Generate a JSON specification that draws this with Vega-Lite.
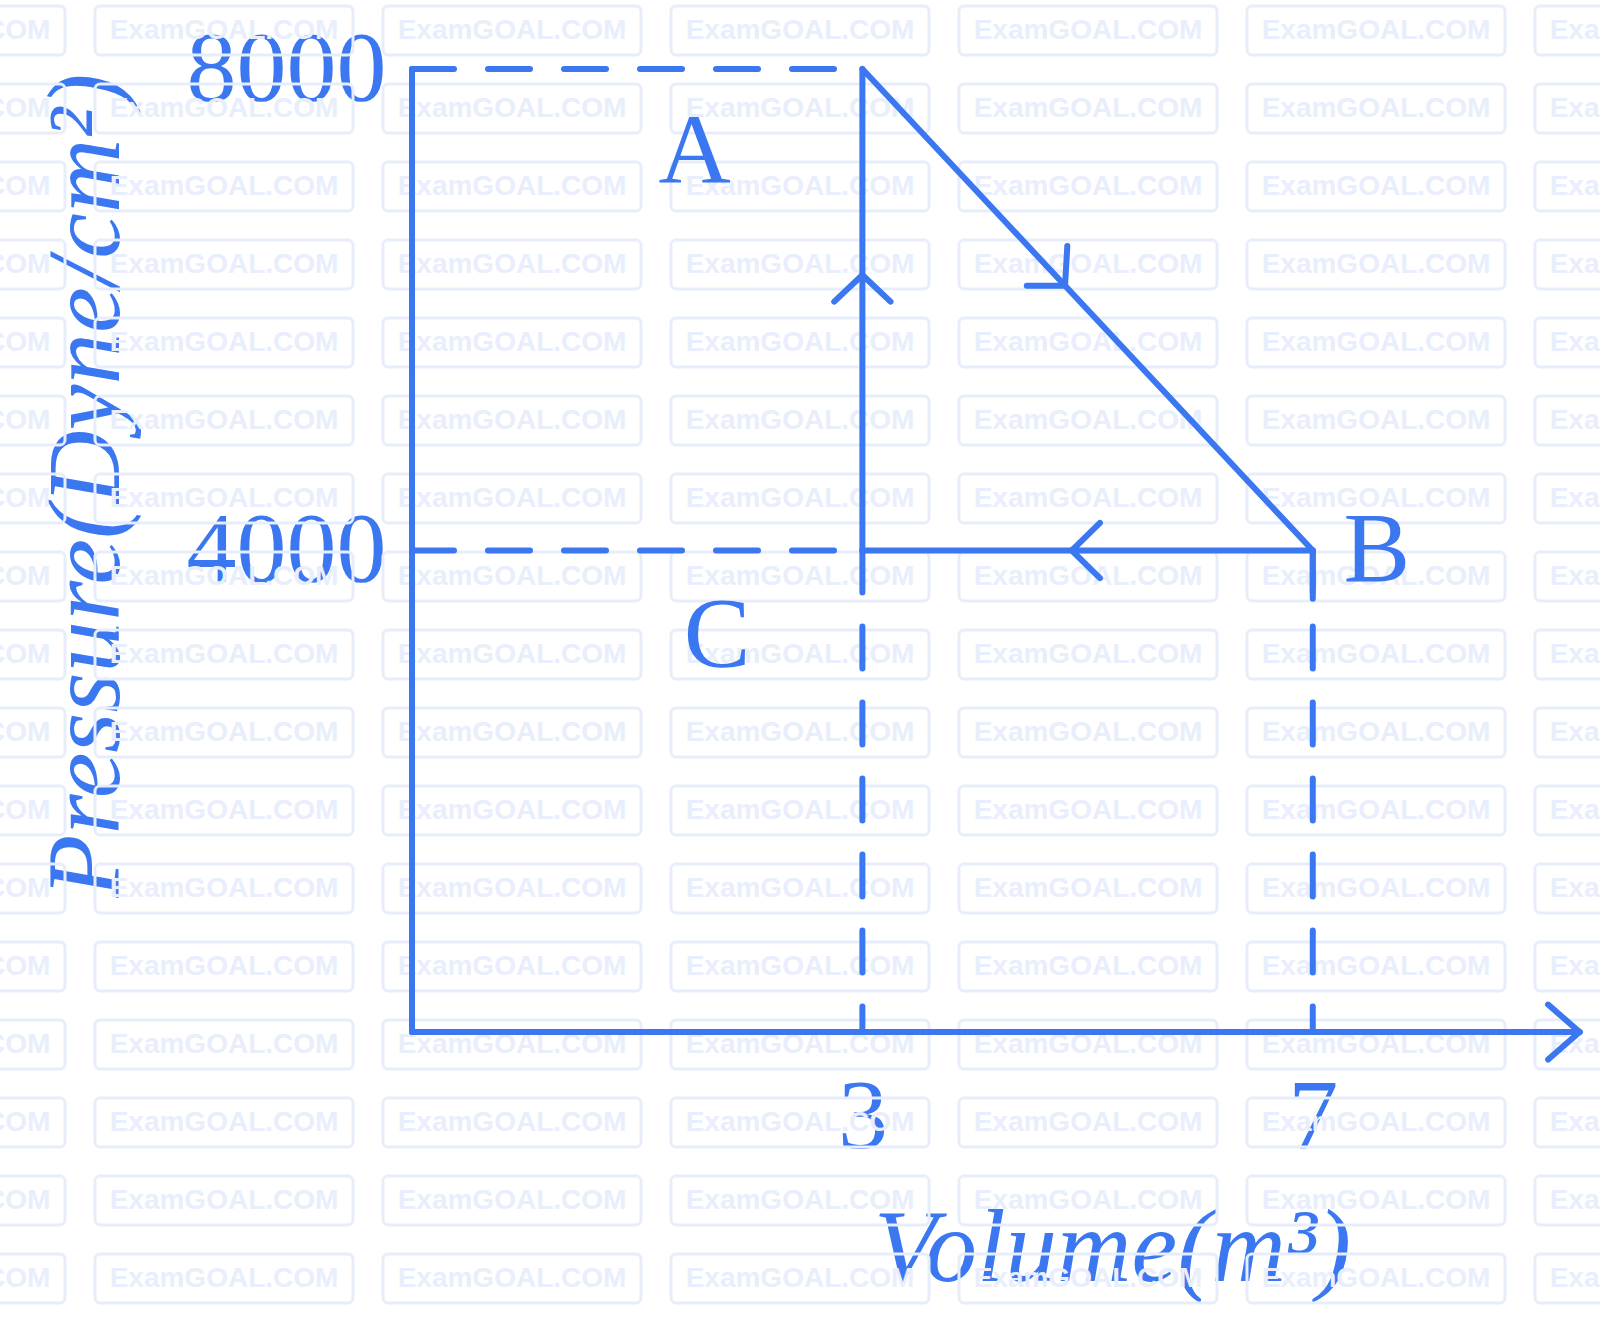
{
  "$schema": "https://vega.github.io/schema/vega-lite/v6.json",
  "width": 1171,
  "height": 963,
  "autosize": {"type": "none"},
  "padding": {"left": 412, "top": 69, "right": 17, "bottom": 297},
  "background": "white",
  "config": {"view": {"stroke": null}},
  "resolve": {"scale": {"x": "independent", "y": "independent"}},
  "layer": [
    {
      "data": {"values": [
        {"c":0,"r":0},{"c":1,"r":0},{"c":2,"r":0},{"c":3,"r":0},{"c":4,"r":0},{"c":5,"r":0},{"c":6,"r":0},
        {"c":0,"r":1},{"c":1,"r":1},{"c":2,"r":1},{"c":3,"r":1},{"c":4,"r":1},{"c":5,"r":1},{"c":6,"r":1},
        {"c":0,"r":2},{"c":1,"r":2},{"c":2,"r":2},{"c":3,"r":2},{"c":4,"r":2},{"c":5,"r":2},{"c":6,"r":2},
        {"c":0,"r":3},{"c":1,"r":3},{"c":2,"r":3},{"c":3,"r":3},{"c":4,"r":3},{"c":5,"r":3},{"c":6,"r":3},
        {"c":0,"r":4},{"c":1,"r":4},{"c":2,"r":4},{"c":3,"r":4},{"c":4,"r":4},{"c":5,"r":4},{"c":6,"r":4},
        {"c":0,"r":5},{"c":1,"r":5},{"c":2,"r":5},{"c":3,"r":5},{"c":4,"r":5},{"c":5,"r":5},{"c":6,"r":5},
        {"c":0,"r":6},{"c":1,"r":6},{"c":2,"r":6},{"c":3,"r":6},{"c":4,"r":6},{"c":5,"r":6},{"c":6,"r":6},
        {"c":0,"r":7},{"c":1,"r":7},{"c":2,"r":7},{"c":3,"r":7},{"c":4,"r":7},{"c":5,"r":7},{"c":6,"r":7},
        {"c":0,"r":8},{"c":1,"r":8},{"c":2,"r":8},{"c":3,"r":8},{"c":4,"r":8},{"c":5,"r":8},{"c":6,"r":8},
        {"c":0,"r":9},{"c":1,"r":9},{"c":2,"r":9},{"c":3,"r":9},{"c":4,"r":9},{"c":5,"r":9},{"c":6,"r":9},
        {"c":0,"r":10},{"c":1,"r":10},{"c":2,"r":10},{"c":3,"r":10},{"c":4,"r":10},{"c":5,"r":10},{"c":6,"r":10},
        {"c":0,"r":11},{"c":1,"r":11},{"c":2,"r":11},{"c":3,"r":11},{"c":4,"r":11},{"c":5,"r":11},{"c":6,"r":11},
        {"c":0,"r":12},{"c":1,"r":12},{"c":2,"r":12},{"c":3,"r":12},{"c":4,"r":12},{"c":5,"r":12},{"c":6,"r":12},
        {"c":0,"r":13},{"c":1,"r":13},{"c":2,"r":13},{"c":3,"r":13},{"c":4,"r":13},{"c":5,"r":13},{"c":6,"r":13},
        {"c":0,"r":14},{"c":1,"r":14},{"c":2,"r":14},{"c":3,"r":14},{"c":4,"r":14},{"c":5,"r":14},{"c":6,"r":14},
        {"c":0,"r":15},{"c":1,"r":15},{"c":2,"r":15},{"c":3,"r":15},{"c":4,"r":15},{"c":5,"r":15},{"c":6,"r":15},
        {"c":0,"r":16},{"c":1,"r":16},{"c":2,"r":16},{"c":3,"r":16},{"c":4,"r":16},{"c":5,"r":16},{"c":6,"r":16}
      ]},
      "encoding": {
        "x": {"field": "c", "type": "quantitative", "scale": {"domain": [1.6528, 5.7188], "nice": false, "zero": false}, "axis": null},
        "y": {"field": "r", "type": "quantitative", "scale": {"domain": [0.4936, 12.84], "nice": false, "zero": false, "reverse": true}, "axis": null}
      },
      "layer": [
        {"mark": {"type": "rect", "width": 258, "height": 49, "align": "center", "baseline": "middle", "fillOpacity": 0, "stroke": "#e7edfb", "strokeWidth": 3, "cornerRadius": 5}},
        {"mark": {"type": "text", "font": "Liberation Sans", "fontWeight": "bold", "fontSize": 28, "color": "#e8eefc", "align": "center", "baseline": "middle", "dy": 1},
         "encoding": {"text": {"value": "ExamGOAL.COM"}}}
      ]
    },
    {
      "encoding": {
        "x": {"field": "x", "type": "quantitative",
              "scale": {"domain": [-1, 9.4], "nice": false, "zero": false},
              "axis": {"values": [3, 7], "format": "d", "domain": false, "ticks": false, "tickSize": 0, "grid": false,
                       "labelFont": "Liberation Serif", "labelFontSize": 100, "labelColor": "#3a77f0",
                       "labelPadding": 36, "labelFlush": false, "labelOverlap": false, "labelLimit": 0,
                       "title": "Volume(m³)", "titleFont": "Liberation Serif", "titleFontStyle": "italic",
                       "titleFontWeight": "normal", "titleFontSize": 103, "titleColor": "#3a77f0", "titleLimit": 0,
                       "titleX": 700, "titleY": 248, "titleAlign": "center", "titleBaseline": "alphabetic", "titleAngle": 0}},
        "y": {"field": "y", "type": "quantitative",
              "scale": {"domain": [0, 8000], "nice": false, "zero": false},
              "axis": {"values": [4000, 8000], "format": "d", "domain": false, "ticks": false, "tickSize": 0, "grid": false,
                       "labelFont": "Liberation Serif", "labelFontSize": 100, "labelColor": "#3a77f0",
                       "labelPadding": 26, "labelFlush": false, "labelOverlap": false, "labelLimit": 0,
                       "labelAlign": "right", "labelBaseline": "middle",
                       "title": "Pressure(Dyne/cm²)", "titleFont": "Liberation Serif", "titleFontStyle": "italic",
                       "titleFontWeight": "normal", "titleFontSize": 103, "titleColor": "#3a77f0", "titleLimit": 0,
                       "titleX": -294, "titleY": 416, "titleAlign": "center", "titleBaseline": "alphabetic", "titleAngle": 270}}
      },
      "layer": [
        {
          "data": {"values": [
            {"x": -1, "y": 8000, "x2": 3, "y2": 8000},
            {"x": -1, "y": 4000, "x2": 3, "y2": 4000},
            {"x": 3, "y": 4000, "x2": 3, "y2": 0},
            {"x": 7, "y": 4000, "x2": 7, "y2": 0}
          ]},
          "mark": {"type": "rule", "color": "#3a77f0", "strokeWidth": 6, "strokeDash": [42, 34], "strokeCap": "round"},
          "encoding": {"x2": {"field": "x2"}, "y2": {"field": "y2"}}
        },
        {
          "data": {"values": [
            {"x": -1, "y": 0, "x2": -1, "y2": 8000},
            {"x": -1, "y": 0, "x2": 9.37, "y2": 0},
            {"x": 9.09, "y": 228, "x2": 9.37, "y2": 0},
            {"x": 9.09, "y": -228, "x2": 9.37, "y2": 0},
            {"x": 3, "y": 4000, "x2": 3, "y2": 8000},
            {"x": 3, "y": 8000, "x2": 7, "y2": 4000},
            {"x": 7, "y": 4000, "x2": 3, "y2": 4000},
            {"x": 2.75, "y": 6067, "x2": 3, "y2": 6289},
            {"x": 3.25, "y": 6067, "x2": 3, "y2": 6289},
            {"x": 4.82, "y": 6530, "x2": 4.8, "y2": 6200},
            {"x": 4.46, "y": 6200, "x2": 4.8, "y2": 6200},
            {"x": 5.11, "y": 4230, "x2": 4.86, "y2": 4000},
            {"x": 5.11, "y": 3770, "x2": 4.86, "y2": 4000},
            {"x": 7, "y": 4000, "x2": 7, "y2": 3600}
          ]},
          "mark": {"type": "rule", "color": "#3a77f0", "strokeWidth": 6, "strokeCap": "round"},
          "encoding": {"x2": {"field": "x2"}, "y2": {"field": "y2"}}
        },
        {
          "data": {"values": [
            {"x": 1.51, "y": 7300, "label": "A"},
            {"x": 7.57, "y": 3996, "label": "B"},
            {"x": 1.71, "y": 3290, "label": "C"}
          ]},
          "mark": {"type": "text", "font": "Liberation Serif", "fontSize": 100, "color": "#3a77f0", "align": "center", "baseline": "middle"},
          "encoding": {"text": {"field": "label"}}
        }
      ]
    }
  ]
}
